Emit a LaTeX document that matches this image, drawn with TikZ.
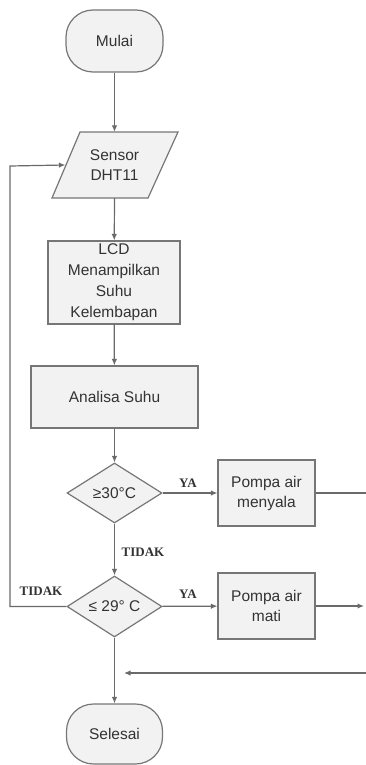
\documentclass[tikz,border=0pt]{standalone}
\usepackage{fontspec}
\setmainfont{Liberation Sans}
\newfontfamily\lblfont{Liberation Serif}
\usetikzlibrary{shapes.geometric,arrows.meta}
\definecolor{lnc}{HTML}{6A6A6A}
\definecolor{bdc}{HTML}{767676}
\definecolor{fillc}{HTML}{F2F2F2}
\definecolor{txc}{HTML}{333333}
\tikzset{
  x=1pt,y=-1pt,
  boxbase/.style={draw=bdc,line width=1.2pt,fill=fillc,text=txc,font=\fontsize{15.5}{20}\selectfont,align=center,inner sep=0pt},
  procbox/.style={boxbase,rectangle},
  termbox/.style={boxbase,rectangle,rounded corners=27pt},
  decbox/.style={boxbase,diamond,aspect=1.6},
  conn/.style={draw=lnc,line width=1.2pt},
  arr/.style={conn,-{Latex[length=6.5pt,width=5.5pt]}},
  lbl/.style={font=\lblfont\bfseries\fontsize{13}{13}\selectfont,text=txc,inner sep=0pt}
}
\begin{document}
\begin{tikzpicture}
\useasboundingbox (0,0) rectangle (365,765);
\node[termbox,minimum width=97pt,minimum height=62pt] (mulai) at (114.5,41) {Mulai};
% Sensor parallelogram
\draw[draw=bdc,line width=1.2pt,fill=fillc] (80,132) -- (178,132) -- (148,198) -- (52,198) -- cycle;
\node[inner sep=0pt,minimum width=98pt,minimum height=66pt,text=txc,font=\fontsize{15.5}{20}\selectfont,align=center] (sensor) at (114.5,165) {Sensor\\DHT11};
\node[procbox,minimum width=132pt,minimum height=83pt,font=\fontsize{15.5}{21}\selectfont] (lcd) at (114,282.5) {LCD\\Menampilkan\\Suhu\\Kelembapan};
\node[procbox,minimum width=167pt,minimum height=62pt] (analisa) at (114.5,397) {Analisa Suhu};
\node[decbox,minimum width=95pt,minimum height=60pt] (d1) at (114.5,493) {≥30°C};
\node[procbox,minimum width=97pt,minimum height=66pt] (pm1) at (266.5,493) {Pompa air\\menyala};
\node[decbox,minimum width=95pt,minimum height=61pt] (d2) at (114.5,606.5) {≤ 29° C};
\node[procbox,minimum width=97pt,minimum height=66pt] (pm2) at (266.5,606) {Pompa air\\mati};
\node[termbox,minimum width=96pt,minimum height=60pt] (selesai) at (114.5,734) {Selesai};
\coordinate (r1) at (366,493);
\coordinate (r2) at (364,606);
\coordinate (r3) at (366,673);
\coordinate (r3end) at (124,673);
\coordinate (lp) at (10,606.5);
\coordinate (lt) at (10,166);
\draw[arr] (mulai) -- (sensor.north);
\draw[arr] (sensor.south) -- (lcd);
\draw[arr] (lcd) -- (analisa);
\draw[arr] (analisa) -- (d1);
\draw[arr] (d1) -- (pm1);
\draw[arr] (d1) -- (d2);
\draw[arr] (d2) -- (pm2);
\draw[conn] (pm1) -- (r1);
\draw[arr] (pm2) -- (r2);
\draw[arr] (r3) -- (r3end);
\draw[arr] (d2) -- (selesai);
\draw[arr] (d2.west) -- (lp) -- (lt) -- (sensor.west);
\node[lbl] (ya1) at (188,483) {YA};
\node[lbl] (ya2) at (188,594) {YA};
\node[lbl] (td1) at (143,552) {TIDAK};
\node[lbl] (td2) at (41,591) {TIDAK};
\end{tikzpicture}
\end{document}
